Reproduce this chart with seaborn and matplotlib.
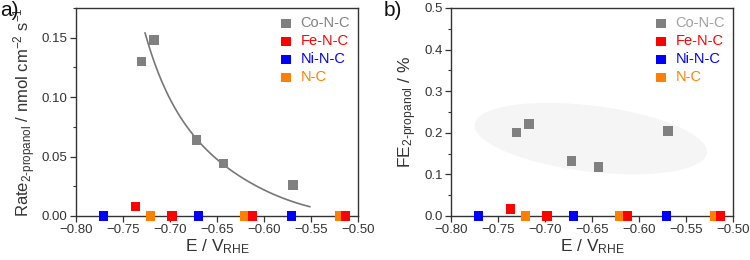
import numpy as np
import pandas as pd
import matplotlib
matplotlib.use("Agg")
import matplotlib.pyplot as plt
from matplotlib.ticker import MultipleLocator, AutoMinorLocator
from matplotlib.patches import Polygon
import seaborn as sns

# ---------------- data ----------------
series = ["Co-N-C", "Fe-N-C", "Ni-N-C", "N-C"]
co_E = [-0.730, -0.717, -0.672, -0.643, -0.569]
co_rate = [0.130, 0.148, 0.064, 0.044, 0.026]
co_fe = [0.200, 0.221, 0.132, 0.118, 0.204]
fe_E = [-0.737, -0.698, -0.612, -0.513]
fe_rate = [0.008, 0.0, 0.0, 0.0]
fe_fe = [0.017, 0.0, 0.0, 0.0]
ni_E = [-0.771, -0.670, -0.571]
ni_rate = [0.0, 0.0, 0.0]
ni_fe = [0.0, 0.0, 0.0]
nc_E = [-0.721, -0.621, -0.520]
nc_rate = [0.0, 0.0, 0.0]
nc_fe = [0.0, 0.0, 0.0]

# fitted curve
fit_E = [-0.7266, -0.7071, -0.6894, -0.6716, -0.6433, -0.6007, -0.551]
fit_rate = [0.1554, 0.109, 0.0837, 0.0641, 0.0444, 0.0219, 0.0078]

colors = {"Co-N-C": "#808080", "Fe-N-C": "#ff0000", "Ni-N-C": "#0000ff", "N-C": "#ff8000"}

frames = []
for name, E, r, f in [("Co-N-C", co_E, co_rate, co_fe), ("Fe-N-C", fe_E, fe_rate, fe_fe),
                      ("Ni-N-C", ni_E, ni_rate, ni_fe), ("N-C", nc_E, nc_rate, nc_fe)]:
    frames.append(pd.DataFrame({"E": E, "rate": r, "FE": f, "sample": name}))
df = pd.concat(frames, ignore_index=True)

sns.set_theme(style="white")
plt.rcParams["font.family"] = ["Liberation Sans", "DejaVu Sans"]
plt.rcParams["mathtext.fontset"] = "custom"
plt.rcParams["mathtext.rm"] = "Liberation Sans"
plt.rcParams["mathtext.it"] = "Liberation Sans"
plt.rcParams["mathtext.default"] = "regular"

fig = plt.figure(figsize=(7.5, 2.6), dpi=100)
axA = fig.add_axes([76 / 750, 1 - 216 / 260, 282 / 750, 208 / 260])
axB = fig.add_axes([451 / 750, 1 - 216 / 260, 282 / 750, 208 / 260])

draw_order = ["N-C", "Ni-N-C", "Fe-N-C", "Co-N-C"]

def style(ax, ylim, ymaj):
    ax.set_xlim(-0.80, -0.50)
    ax.set_ylim(*ylim)
    ax.xaxis.set_major_locator(MultipleLocator(0.05))
    ax.yaxis.set_major_locator(MultipleLocator(ymaj))
    ax.xaxis.set_minor_locator(AutoMinorLocator(2))
    ax.yaxis.set_minor_locator(AutoMinorLocator(2))
    ax.tick_params(which="major", direction="out", length=4, width=0.9, colors="#333333",
                   labelsize=9.5, left=True, bottom=True, pad=2)
    ax.tick_params(which="minor", direction="out", length=2.5, width=0.8, colors="#333333",
                   left=True, bottom=True)
    for s in ax.spines.values():
        s.set_color("#333333")
        s.set_linewidth(1.0)
    ax.set_xlabel(r"E / V$_{RHE}$", fontsize=12.5, color="#333333", labelpad=1)

# ----- panel a -----
for name in draw_order:
    sub = df[df["sample"] == name]
    sns.scatterplot(data=sub, x="E", y="rate", ax=axA, color=colors[name], marker="s",
                    s=45, edgecolor="none", clip_on=False, zorder=5, label=name)
# smooth exponential-type fit through the read curve points
coef = np.polyfit(fit_E, np.log(fit_rate), 3)
xs = np.linspace(fit_E[0], fit_E[-1], 150)
sns.lineplot(x=xs, y=np.exp(np.polyval(coef, xs)), ax=axA, color="#777777", lw=1.2, zorder=4)
style(axA, (0, 0.175), 0.05)
axA.yaxis.set_major_formatter(matplotlib.ticker.FormatStrFormatter("%.2f"))
axA.set_ylabel(r"Rate$_{2\text{-}propanol}$ / nmol cm$^{-2}$ s$^{-1}$", fontsize=12,
               color="#333333", labelpad=3)

# ----- panel b -----
# shaded ellipse (decorative) built in pixel offsets around a centre
cx, cy = -0.6513, 0.186
t = np.linspace(0, 2 * np.pi, 200)
a_px, b_px, ang = 117, 33, np.deg2rad(-7)
px = a_px * np.cos(t) * np.cos(ang) - b_px * np.sin(t) * np.sin(ang)
py = a_px * np.cos(t) * np.sin(ang) + b_px * np.sin(t) * np.cos(ang)
poly = np.column_stack([cx + px * 0.3 / 282, cy + py * 0.1 / 41.6])
axB.add_patch(Polygon(poly, closed=True, facecolor="#f5f5f5", edgecolor="none", zorder=1))

for name in draw_order:
    sub = df[df["sample"] == name]
    sns.scatterplot(data=sub, x="E", y="FE", ax=axB, color=colors[name], marker="s",
                    s=45, edgecolor="none", clip_on=False, zorder=5, label=name)
style(axB, (0, 0.5), 0.1)
axB.yaxis.set_major_formatter(matplotlib.ticker.FormatStrFormatter("%.1f"))
axB.set_ylabel(r"FE$_{2\text{-}propanol}$ / %", fontsize=12.5, color="#333333", labelpad=4)

for ax, cocol in [(axA, "#808080"), (axB, "#a0a0a0")]:
    h, l = ax.get_legend_handles_labels()
    hmap = dict(zip(l, h))
    leg = ax.legend([hmap[n] for n in series], series, loc="upper right", frameon=False,
                    fontsize=10.5, handletextpad=0.5, labelspacing=0.28, borderaxespad=0.15,
                    handlelength=1.0, markerscale=1.0)
    tcols = [cocol, "#ff0000", "#0000ff", "#ff8000"]
    for txt, c in zip(leg.get_texts(), tcols):
        txt.set_color(c)

fig.text(0.0, 0.995, "a)", fontsize=15, va="top", ha="left", color="#111111")
fig.text(384 / 750, 0.995, "b)", fontsize=15, va="top", ha="left", color="#111111")

fig.savefig("out.png", dpi=100)
